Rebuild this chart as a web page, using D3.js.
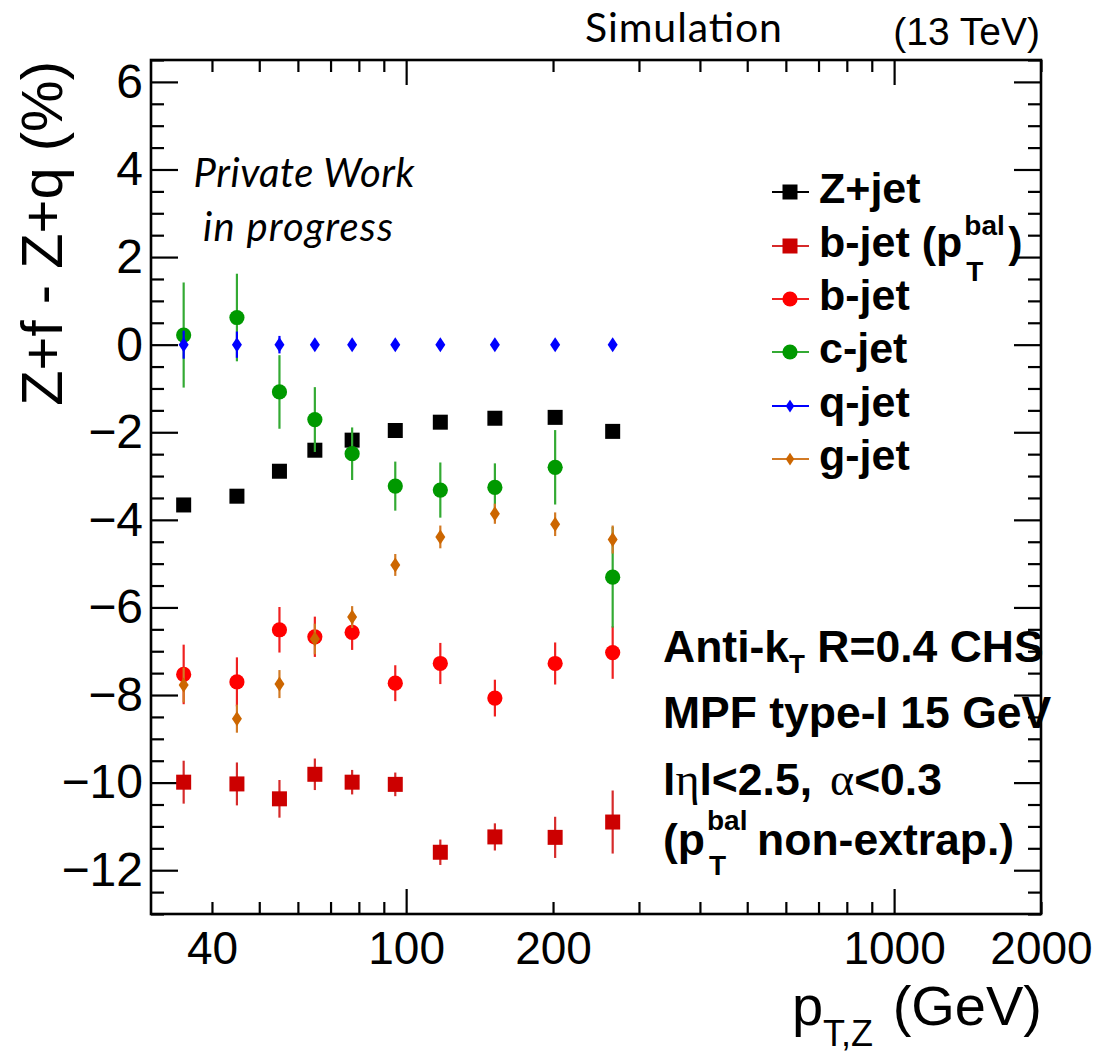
<!DOCTYPE html>
<html>
<head>
<meta charset="utf-8">
<script src="https://cdn.jsdelivr.net/npm/d3@7"></script>
<style>
  body { margin: 0; background: #fff; }
  svg { display: block; }
  .sans { font-family: "Liberation Sans", Arial, Helvetica, sans-serif; }
</style>
</head>
<body>
<div id="my_dataviz"></div>
<script>
// pT bin centres (GeV)
const ptBins = [35, 45, 55, 65, 77.5, 95, 117.5, 152, 202, 265];

// Z+f - Z+q (%) per flavour, with stat. errors
const zjetVal = [-3.66, -3.46, -2.89, -2.41, -2.18, -1.96, -1.77, -1.68, -1.66, -1.98];
const zjetErr = [0.05, 0.05, 0.05, 0.05, 0.05, 0.05, 0.05, 0.05, 0.05, 0.05];
const bjetBalVal = [-9.99, -10.03, -10.37, -9.81, -9.99, -10.04, -11.59, -11.24, -11.25, -10.90];
const bjetBalErr = [0.49, 0.49, 0.43, 0.36, 0.28, 0.27, 0.29, 0.31, 0.47, 0.72];
const bjetVal = [-7.53, -7.70, -6.51, -6.67, -6.57, -7.73, -7.28, -8.07, -7.28, -7.03];
const bjetErr = [0.68, 0.56, 0.52, 0.46, 0.40, 0.41, 0.47, 0.42, 0.48, 0.60];
const cjetVal = [0.22, 0.62, -1.08, -1.71, -2.49, -3.23, -3.32, -3.26, -2.80, -5.31];
const cjetErr = [1.20, 1.00, 0.84, 0.74, 0.60, 0.56, 0.63, 0.55, 0.85, 1.15];
const qjetVal = [0, 0, 0, 0, 0, 0, 0, 0, 0, 0];
const qjetErr = [0.32, 0.30, 0.20, 0.08, 0.08, 0.08, 0.08, 0.08, 0.08, 0.08];
const gjetVal = [-7.77, -8.54, -7.75, -6.72, -6.22, -5.03, -4.39, -3.86, -4.10, -4.45];
const gjetErr = [0.40, 0.32, 0.32, 0.35, 0.25, 0.25, 0.26, 0.23, 0.27, 0.32];

// axis ticks
const xLabelTicks = [40, 100, 200, 1000, 2000];
const xMajorTicks = [100, 1000];
const xMinorTicks = [40, 50, 60, 70, 80, 90, 200, 300, 400, 500, 600, 700, 800, 900, 2000];
const yMajorTicks = [6, 4, 2, 0, -2, -4, -6, -8, -10, -12];
const yMinorTicks = d3.range(-13, 6.51, 0.5).filter(v => !yMajorTicks.includes(v));

const series = [
  { name: "Z+jet", val: zjetVal, err: zjetErr, marker: "square", color: "#000000", errColor: "#000000" },
  { name: "b-jet (pbal)", val: bjetBalVal, err: bjetBalErr, marker: "square", color: "#cc0000", errColor: "#d62a2a" },
  { name: "b-jet", val: bjetVal, err: bjetErr, marker: "circle", color: "#ff0000", errColor: "#f02020" },
  { name: "c-jet", val: cjetVal, err: cjetErr, marker: "circle", color: "#009900", errColor: "#33aa33" },
  { name: "q-jet", val: qjetVal, err: qjetErr, marker: "diamond", color: "#0000ff", errColor: "#0000ff" },
  { name: "g-jet", val: gjetVal, err: gjetErr, marker: "diamond", color: "#cc6600", errColor: "#d27a25" }
];

const width = 1101, height = 1055;
const frame = { left: 151, right: 1041, top: 60, bottom: 914 };

const svg = d3.select("#my_dataviz").append("svg")
  .attr("width", width).attr("height", height)
  .attr("class", "sans");
svg.append("rect").attr("width", width).attr("height", height).attr("fill", "#fff");

const x = d3.scaleLog().domain([30, 2000]).range([frame.left, frame.right]);
const y = d3.scaleLinear().domain([-13, 6.5]).range([frame.bottom, frame.top]);

// ---- axes (ticks point inward, on all four sides) ----
function styleAxis(g) {
  g.select(".domain").remove();
  g.selectAll("line").attr("stroke", "#000").attr("stroke-width", 2.2);
}
// bottom
svg.append("g").attr("transform", `translate(0,${frame.bottom})`)
  .call(d3.axisBottom(x).tickValues(xMinorTicks).tickSize(-12).tickFormat("")).call(styleAxis);
svg.append("g").attr("transform", `translate(0,${frame.bottom})`)
  .call(d3.axisBottom(x).tickValues(xMajorTicks).tickSize(-25).tickFormat("")).call(styleAxis);
svg.append("g").attr("transform", `translate(0,${frame.bottom})`)
  .call(d3.axisBottom(x).tickValues(xLabelTicks).tickSize(0).tickPadding(17).tickFormat(d3.format("d")))
  .call(g => { g.select(".domain").remove(); g.selectAll("line").remove(); })
  .selectAll("text").attr("font-size", 46).attr("font-family", "Liberation Sans, Arial, sans-serif").attr("fill", "#000");
// top
svg.append("g").attr("transform", `translate(0,${frame.top})`)
  .call(d3.axisTop(x).tickValues(xMinorTicks).tickSize(-12).tickFormat("")).call(styleAxis);
svg.append("g").attr("transform", `translate(0,${frame.top})`)
  .call(d3.axisTop(x).tickValues(xMajorTicks).tickSize(-25).tickFormat("")).call(styleAxis);
// left
svg.append("g").attr("transform", `translate(${frame.left},0)`)
  .call(d3.axisLeft(y).tickValues(yMinorTicks).tickSize(-13).tickFormat("")).call(styleAxis);
svg.append("g").attr("transform", `translate(${frame.left},0)`)
  .call(d3.axisLeft(y).tickValues(yMajorTicks).tickSize(-27).tickPadding(8).tickFormat(d3.format("d")))
  .call(styleAxis)
  .selectAll("text").attr("font-size", 48).attr("font-family", "Liberation Sans, Arial, sans-serif").attr("fill", "#000");
// right
svg.append("g").attr("transform", `translate(${frame.right},0)`)
  .call(d3.axisRight(y).tickValues(yMinorTicks).tickSize(-13).tickFormat("")).call(styleAxis);
svg.append("g").attr("transform", `translate(${frame.right},0)`)
  .call(d3.axisRight(y).tickValues(yMajorTicks).tickSize(-27).tickFormat("")).call(styleAxis);

// frame
svg.append("rect")
  .attr("x", frame.left).attr("y", frame.top)
  .attr("width", frame.right - frame.left).attr("height", frame.bottom - frame.top)
  .attr("fill", "none").attr("stroke", "#000").attr("stroke-width", 2.6);

// ---- markers ----
function drawMarker(g, type, cx, cy, color, scale = 1) {
  if (type === "square") {
    const s = 15 * scale;
    g.append("rect").attr("x", cx - s / 2).attr("y", cy - s / 2).attr("width", s).attr("height", s).attr("fill", color);
  } else if (type === "circle") {
    g.append("circle").attr("cx", cx).attr("cy", cy).attr("r", 7.6 * scale).attr("fill", color);
  } else {
    const w = 5 * scale, h = 7.5 * scale;
    g.append("path")
      .attr("d", `M${cx},${cy - h}L${cx + w},${cy}L${cx},${cy + h}L${cx - w},${cy}Z`)
      .attr("fill", color);
  }
}

const plot = svg.append("g");
series.forEach(s => {
  const g = plot.append("g");
  ptBins.forEach((pt, i) => {
    g.append("line")
      .attr("x1", x(pt)).attr("x2", x(pt))
      .attr("y1", y(s.val[i] + s.err[i])).attr("y2", y(s.val[i] - s.err[i]))
      .attr("stroke", s.errColor).attr("stroke-width", 2.2);
  });
  ptBins.forEach((pt, i) => drawMarker(g, s.marker, x(pt), y(s.val[i]), s.color));
});

// ---- legend ----
const legX = 790, legText = 819;
const legBase = [203, 257, 310, 363, 417, 470];
series.forEach((s, i) => {
  const g = svg.append("g");
  const cy = legBase[i] - 11;
  g.append("line").attr("x1", legX - 18).attr("x2", legX + 19).attr("y1", cy).attr("y2", cy)
    .attr("stroke", s.errColor).attr("stroke-width", 2);
  drawMarker(g, s.marker, legX, cy, s.color, s.marker === "diamond" ? 0.85 : 1);
  const label = s.name === "b-jet (pbal)" ? "b-jet (p" : s.name;
  const t = g.append("text").attr("x", legText).attr("y", legBase[i])
    .attr("font-size", 43).attr("font-weight", "bold").text(label);
  if (s.name === "b-jet (pbal)") {
    const end = legText + t.node().getComputedTextLength() + 2;
    g.append("text").attr("x", end).attr("y", legBase[i] - 22).attr("font-size", 28).attr("font-weight", "bold").text("bal");
    g.append("text").attr("x", end + 2).attr("y", legBase[i] + 24).attr("font-size", 28).attr("font-weight", "bold").text("T");
    g.append("text").attr("x", end + 44).attr("y", legBase[i]).attr("font-size", 43).attr("font-weight", "bold").text(")");
  }
});

// ---- info text (bottom right) ----
const infoX = 663;
const info = svg.append("g").attr("font-weight", "bold").attr("font-size", 44.5);
{
  const t1 = info.append("text").attr("x", infoX).attr("y", 662);
  t1.append("tspan").text("Anti-k");
  t1.append("tspan").attr("font-size", 26).attr("dy", 11).text("T");
  t1.append("tspan").attr("dy", -11).text(" R=0.4 CHS");

  info.append("text").attr("x", infoX).attr("y", 728).text("MPF type-I 15 GeV");

  const t3 = info.append("text").attr("x", infoX).attr("y", 795);
  t3.append("tspan").text("l");
  t3.append("tspan").attr("font-family", "Liberation Serif, serif").attr("font-weight", "normal").attr("font-size", 46).text("η");
  t3.append("tspan").text("l<2.5,");
  t3.append("tspan").attr("font-family", "Liberation Serif, serif").attr("font-weight", "normal").attr("font-size", 46)
    .attr("dx", 18).text("α");
  t3.append("tspan").text("<0.3");

  const t4 = info.append("text").attr("x", infoX).attr("y", 855).text("(p");
  const e4 = infoX + t4.node().getComputedTextLength() + 2;
  info.append("text").attr("x", e4).attr("y", 830).attr("font-size", 28).text("bal");
  info.append("text").attr("x", e4 + 2).attr("y", 875).attr("font-size", 28).text("T");
  info.append("text").attr("x", e4 + 50).attr("y", 855).text("non-extrap.)");
}

// ---- private work label ----
const pw = { fontFamily: "Lato, 'Open Sans', sans-serif", size: 40 };
svg.append("text").attr("x", 304).attr("y", 187).attr("text-anchor", "middle")
  .attr("font-family", pw.fontFamily).attr("font-style", "italic").attr("font-size", pw.size)
  .attr("textLength", 221)
  .text("Private Work");
svg.append("text").attr("x", 298).attr("y", 241).attr("text-anchor", "middle")
  .attr("font-family", pw.fontFamily).attr("font-style", "italic").attr("font-size", pw.size)
  .attr("textLength", 190)
  .text("in progress");

// ---- top labels ----
svg.append("text").attr("x", 585).attr("y", 42)
  .attr("font-family", "Lato, 'Open Sans', sans-serif").attr("font-size", 41)
  .attr("textLength", 197)
  .text("Simulation");
svg.append("text").attr("x", 1040).attr("y", 45).attr("text-anchor", "end")
  .attr("font-size", 39).text("(13 TeV)");

// ---- axis titles ----
svg.append("text")
  .attr("transform", `translate(62,61) rotate(-90)`)
  .attr("text-anchor", "end").attr("font-size", 58)
  .text("Z+f - Z+q (%)");

const xt = svg.append("text").attr("x", 1042).attr("y", 1025).attr("text-anchor", "end").attr("font-size", 56);
xt.append("tspan").text("p");
xt.append("tspan").attr("font-size", 36).attr("dy", 21).text("T,Z");
xt.append("tspan").attr("dy", -21).attr("dx", 4).text(" (GeV)");
</script>
</body>
</html>
